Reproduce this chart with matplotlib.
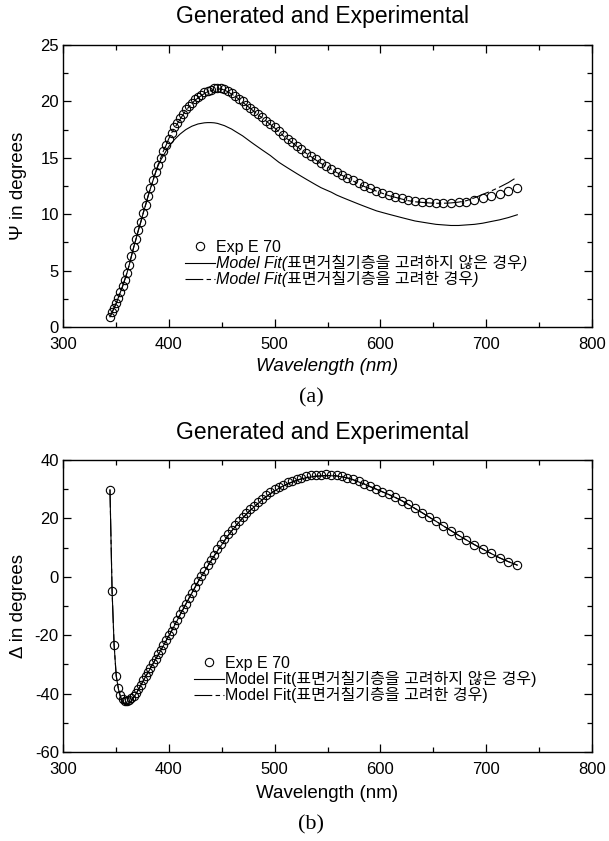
import matplotlib.pyplot as plt
from matplotlib.lines import Line2D
from matplotlib.ticker import MultipleLocator

plt.rcParams['font.family'] = ['Liberation Sans', 'Noto Sans CJK KR', 'DejaVu Sans']
plt.rcParams['axes.unicode_minus'] = False

# wavelengths of the measured points (nm)
wl = [344.4, 346.4, 348.3, 350.3, 352.3, 354.3, 356.3, 358.4, 360.5, 362.6,
      364.7, 366.9, 369.0, 371.3, 373.5, 375.8, 378.0, 380.4, 382.7, 385.1,
      387.5, 389.9, 392.4, 394.9, 397.4, 400.0, 402.6, 405.2, 407.9, 410.6,
      413.3, 416.1, 418.9, 421.8, 424.7, 427.6, 430.6, 433.6, 436.6, 439.7,
      442.9, 446.0, 449.3, 452.6, 455.9, 459.3, 462.7, 466.2, 469.7, 473.3,
      476.9, 480.6, 484.4, 488.2, 492.1, 496.0, 500.0, 504.1, 508.2, 512.4,
      516.7, 521.0, 525.4, 529.9, 534.5, 539.1, 543.9, 548.7, 553.6, 558.6,
      563.6, 568.8, 574.1, 579.4, 584.9, 590.5, 596.2, 601.9, 607.8, 613.9,
      620.0, 626.3, 632.7, 639.2, 645.8, 652.6, 659.6, 666.7, 673.9, 681.3,
      688.9, 696.6, 704.5, 712.6, 720.9, 729.4]

# (a) Psi
psi_exp = [0.9, 1.3, 1.7, 2.1, 2.6, 3.1, 3.6, 4.2, 4.8, 5.5,
           6.3, 7.1, 7.8, 8.6, 9.3, 10.1, 10.8, 11.6, 12.3, 13.0,
           13.7, 14.4, 15.0, 15.6, 16.1, 16.7, 17.2, 17.7, 18.1, 18.5,
           18.9, 19.3, 19.6, 19.9, 20.2, 20.4, 20.6, 20.8, 20.95, 21.05,
           21.15, 21.2, 21.2, 21.1, 20.95, 20.75, 20.5, 20.25, 20.0, 19.7,
           19.45, 19.15, 18.85, 18.6, 18.3, 18.0, 17.7, 17.35, 17.0, 16.7,
           16.4, 16.05, 15.75, 15.45, 15.15, 14.85, 14.55, 14.3, 14.05, 13.75,
           13.5, 13.25, 13.0, 12.75, 12.5, 12.3, 12.1, 11.9, 11.7, 11.55,
           11.4, 11.25, 11.15, 11.1, 11.05, 11.0, 11.0, 11.0, 11.05, 11.1,
           11.25, 11.4, 11.6, 11.8, 12.05, 12.35]
psi_fit_rough = [0.9, 1.3, 1.7, 2.1, 2.6, 3.1, 3.6, 4.2, 4.8, 5.5,
                 6.3, 7.1, 7.8, 8.6, 9.3, 10.1, 10.8, 11.6, 12.3, 13.0,
                 13.7, 14.4, 15.0, 15.6, 16.1, 16.7, 17.2, 17.6, 18.0, 18.4,
                 18.8, 19.2, 19.5, 19.8, 20.1, 20.3, 20.5, 20.7, 20.85, 20.95,
                 21.05, 21.1, 21.1, 21.0, 20.85, 20.65, 20.45, 20.2, 19.95, 19.65,
                 19.4, 19.1, 18.8, 18.55, 18.25, 17.95, 17.65, 17.3, 16.95, 16.65,
                 16.35, 16.0, 15.7, 15.4, 15.1, 14.8, 14.5, 14.25, 14.0, 13.7,
                 13.45, 13.2, 12.95, 12.7, 12.45, 12.25, 12.05, 11.85, 11.65, 11.5,
                 11.35, 11.2, 11.1, 11.05, 11.0, 10.97, 10.97, 11.0, 11.07, 11.2,
                 11.45, 11.75, 12.05, 12.4, 12.8, 13.3]
psi_fit_plain = [0.9, 1.3, 1.7, 2.1, 2.6, 3.1, 3.6, 4.2, 4.8, 5.5,
                 6.3, 7.1, 7.8, 8.6, 9.3, 10.1, 10.8, 11.6, 12.3, 13.0,
                 13.7, 14.3, 14.8, 15.2, 15.6, 16.0, 16.3, 16.6, 16.85, 17.1,
                 17.3, 17.5, 17.65, 17.8, 17.9, 18.0, 18.05, 18.1, 18.12, 18.12,
                 18.1, 18.05, 17.95, 17.85, 17.7, 17.55, 17.35, 17.15, 16.95, 16.7,
                 16.45, 16.2, 15.95, 15.7, 15.45, 15.2, 14.9, 14.6, 14.35, 14.1,
                 13.85, 13.6, 13.35, 13.1, 12.85, 12.6, 12.35, 12.15, 11.95, 11.7,
                 11.5, 11.3, 11.1, 10.9, 10.7, 10.5, 10.3, 10.15, 10.0, 9.85,
                 9.7, 9.55, 9.4, 9.3, 9.2, 9.1, 9.05, 9.0, 9.0, 9.05,
                 9.1, 9.2, 9.35, 9.5, 9.7, 9.95]

# (b) Delta
delta_exp = [29.8, -4.9, -23.3, -33.9, -38.0, -40.5, -41.9, -42.4, -42.6, -42.2,
             -41.6, -40.8, -39.8, -38.5, -37.0, -35.5, -34.1, -32.6, -31.1, -29.6,
             -28.1, -26.6, -25.0, -23.4, -21.8, -20.1, -18.4, -16.6, -14.8, -12.9,
             -11.1, -9.2, -7.3, -5.4, -3.5, -1.6, 0.3, 2.1, 4.0, 5.8,
             7.6, 9.4, 11.1, 12.8, 14.5, 16.1, 17.6, 19.1, 20.5, 21.9,
             23.2, 24.4, 25.6, 26.8, 27.9, 28.9, 29.9, 30.8, 31.6, 32.3,
             32.9, 33.5, 34.0, 34.4, 34.7, 34.9, 35.0, 35.05, 35.0, 34.8,
             34.5, 34.0, 33.4, 32.7, 31.9, 31.0, 30.1, 29.2, 28.3, 27.3,
             26.1, 24.8, 23.4, 22.0, 20.5, 19.0, 17.4, 15.8, 14.2, 12.6,
             11.0, 9.5, 8.0, 6.5, 5.2, 4.0]
delta_fit_plain = [29.8, -4.9, -23.3, -33.9, -38.3, -41.2, -43.0, -43.7, -43.8, -43.3,
                   -42.4, -41.3, -40.1, -38.7, -37.2, -35.7, -34.2, -32.8, -31.3, -29.8,
                   -28.3, -26.8, -25.2, -23.6, -22.0, -20.3, -18.6, -16.8, -15.0, -13.1,
                   -11.3, -9.4, -7.5, -5.6, -3.7, -1.8, 0.0, 1.7, 3.5, 5.3,
                   7.1, 8.9, 10.6, 12.3, 14.0, 15.6, 17.1, 18.6, 20.0, 21.4,
                   22.7, 23.9, 25.1, 26.3, 27.4, 28.4, 29.4, 30.3, 31.1, 31.8,
                   32.4, 33.0, 33.5, 33.9, 34.2, 34.4, 34.5, 34.6, 34.6, 34.5,
                   34.2, 33.8, 33.2, 32.5, 31.7, 30.8, 30.0, 29.1, 28.2, 27.2,
                   26.1, 24.8, 23.4, 22.0, 20.5, 19.0, 17.4, 15.8, 14.2, 12.6,
                   11.0, 9.5, 8.0, 6.5, 5.2, 4.0]
delta_fit_rough = [29.8, -4.9, -23.3, -33.9, -38.2, -41.0, -42.7, -43.3, -43.4, -43.0,
                   -42.2, -41.1, -40.0, -38.6, -37.1, -35.6, -34.1, -32.7, -31.2, -29.7,
                   -28.2, -26.7, -25.1, -23.5, -21.9, -20.2, -18.5, -16.7, -14.9, -13.0,
                   -11.2, -9.3, -7.4, -5.5, -3.6, -1.7, 0.1, 1.8, 3.6, 5.4,
                   7.2, 9.0, 10.7, 12.4, 14.1, 15.7, 17.2, 18.7, 20.1, 21.5,
                   22.8, 24.0, 25.2, 26.4, 27.5, 28.5, 29.5, 30.4, 31.2, 31.9,
                   32.5, 33.1, 33.6, 34.0, 34.3, 34.5, 34.6, 34.7, 34.7, 34.6,
                   34.3, 33.9, 33.3, 32.6, 31.8, 30.9, 30.0, 29.1, 28.2, 27.2,
                   26.1, 24.8, 23.4, 22.0, 20.5, 19.0, 17.4, 15.8, 14.2, 12.6,
                   11.0, 9.5, 8.0, 6.5, 5.2, 4.0]

labels = ['Exp E 70',
          'Model Fit(표면거칠기층을 고려하지 않은 경우)',
          'Model Fit(표면거칠기층을 고려한 경우)']

W, H = 609, 841
fig = plt.figure(figsize=(W / 100, H / 100), dpi=100)

def fx(px):
    return px / W

def fy(px):
    return 1 - px / H

ax1 = fig.add_axes([fx(63), fy(327), fx(592) - fx(63), fy(45) - fy(327)])
ax2 = fig.add_axes([fx(63), fy(752), fx(592) - fx(63), fy(460) - fy(752)])

dash = (16, 3, 4, 3)
mk = dict(ls='none', marker='o', ms=6.0, mfc='none', mec='black', mew=0.8)


def style(ax):
    ax.set_xlim(300, 800)
    ax.xaxis.set_major_locator(MultipleLocator(100))
    ax.xaxis.set_minor_locator(MultipleLocator(50))
    ax.tick_params(which='both', direction='in', top=True, right=True,
                   labelsize=12, width=0.9)
    ax.tick_params(axis='x', pad=7.5)
    ax.tick_params(axis='y', pad=3)
    ax.tick_params(which='major', length=6)
    ax.tick_params(which='minor', length=3.5)
    for s in ax.spines.values():
        s.set_linewidth(1.0)


# (a)
ax1.plot(wl, psi_fit_plain, color='black', lw=0.8)
ax1.plot(wl, psi_fit_rough, color='black', lw=0.8, dashes=dash)
ax1.plot(wl, psi_exp, **mk)
style(ax1)
ax1.set_ylim(0, 25)
ax1.yaxis.set_major_locator(MultipleLocator(5))
ax1.yaxis.set_minor_locator(MultipleLocator(2.5))
ax1.set_xlabel('Wavelength (nm)', fontsize=13.5, style='italic')
ax1.set_ylabel('Ψ in degrees', fontsize=13.5)
ax1.xaxis.set_label_coords(0.5, (327 - 358) / 282)
ax1.yaxis.set_label_coords((27 - 63) / 529, 0.5)

# (b)
ax2.plot(wl, delta_fit_plain, color='black', lw=0.8)
ax2.plot(wl, delta_fit_rough, color='black', lw=0.8, dashes=dash)
ax2.plot(wl, delta_exp, **mk)
style(ax2)
ax2.set_ylim(-60, 40)
ax2.yaxis.set_major_locator(MultipleLocator(20))
ax2.yaxis.set_minor_locator(MultipleLocator(10))
ax2.set_xlabel('Wavelength (nm)', fontsize=13.5)
ax2.set_ylabel('Δ in degrees', fontsize=13.5)
ax2.xaxis.set_label_coords(0.5, (752 - 785) / 292)
ax2.yaxis.set_label_coords((27 - 63) / 529, 0.5)

# legends
for ax, (lx, ly), st in [(ax1, (185, 240), 'italic'), (ax2, (194, 656), 'normal')]:
    handles = [Line2D([], [], **mk),
               Line2D([], [], color='black', lw=0.8),
               Line2D([], [], color='black', lw=0.8, dashes=dash)]
    leg = ax.legend(handles, labels, loc='upper left',
                    bbox_to_anchor=(fx(lx), fy(ly)), bbox_transform=fig.transFigure,
                    frameon=False, borderpad=0, borderaxespad=0,
                    handlelength=1.85, handletextpad=0.1, labelspacing=0.0,
                    prop={'size': 11.5})
    for i, t in enumerate(leg.get_texts()):
        if i > 0:
            t.set_style(st)

# titles and panel letters
for y in (17, 433):
    fig.text(fx(322), fy(y), 'Generated and Experimental', fontsize=16.5,
             ha='center', va='center')
fig.text(fx(311), fy(398), '(a)', fontsize=16, family='Liberation Serif',
         ha='center', va='center')
fig.text(fx(311), fy(825), '(b)', fontsize=16, family='Liberation Serif',
         ha='center', va='center')

fig.savefig('out.png', dpi=100)
